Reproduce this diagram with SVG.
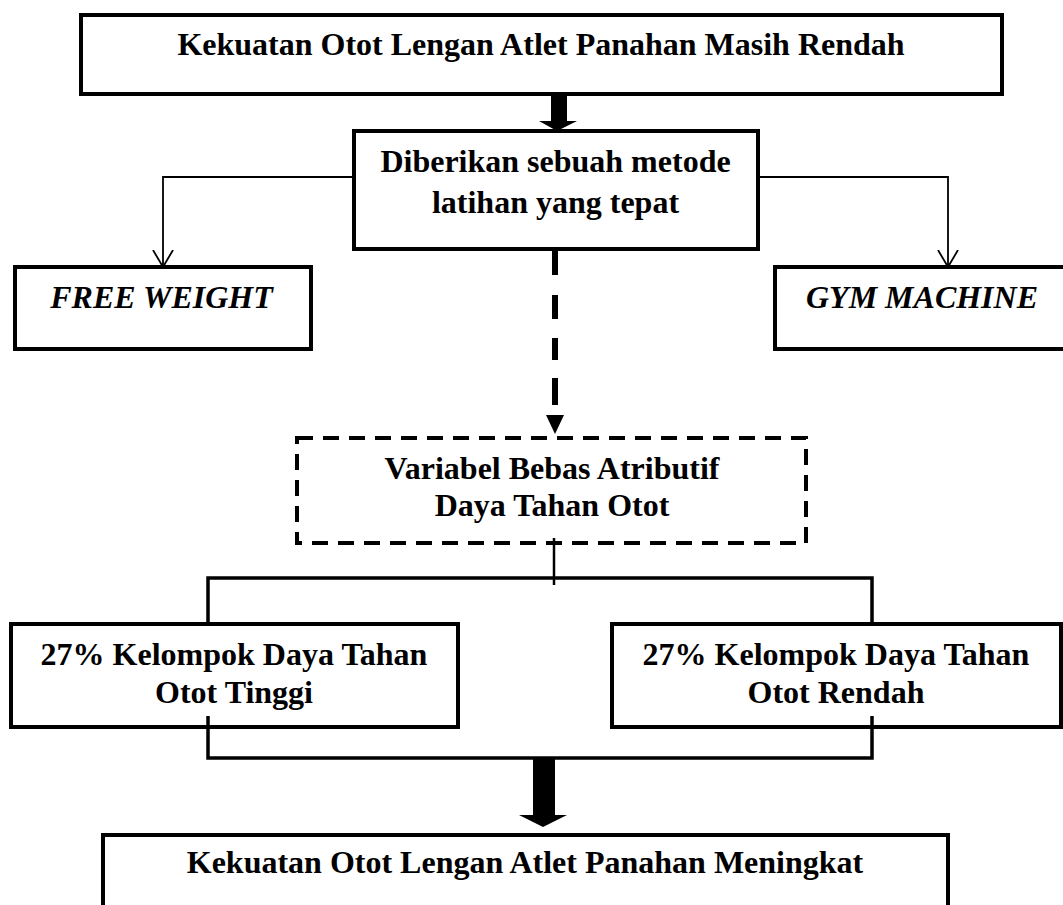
<svg xmlns="http://www.w3.org/2000/svg" width="1063" height="905" viewBox="0 0 1063 905">
<style>
.box{fill:#fff;stroke:#000;stroke-width:4}
.dbox{fill:#fff;stroke:#000;stroke-width:4;stroke-dasharray:16 10}
.t{font-family:"Liberation Serif","Times New Roman",serif;font-weight:bold;font-size:32px;fill:#000;text-anchor:middle}
.i{font-style:italic}
.thin{fill:none;stroke:#000;stroke-width:1.8}
.mid{fill:none;stroke:#000;stroke-width:3.5}
</style>
<defs>
<marker id="open" markerWidth="18" markerHeight="22" refX="17" refY="11" orient="auto" markerUnits="userSpaceOnUse" viewBox="0 0 18 22">
<path d="M0,1 L17,11 L0,21" fill="none" stroke="#000" stroke-width="1.8"/>
</marker>
</defs>
<rect width="1063" height="905" fill="#fff"/>
<g id="n1"><rect class="box" x="81" y="15" width="921" height="79"/><text class="t" x="541" y="55">Kekuatan Otot Lengan Atlet Panahan Masih Rendah</text></g>
<g id="n2"><rect class="box" x="354" y="131" width="404" height="118"/><text class="t" x="555.5" y="172">Diberikan sebuah metode</text><text class="t" x="555.5" y="213">latihan yang tepat</text></g>
<g id="n3"><rect class="box" x="15" y="267" width="296" height="82"/><text class="t i" x="161.5" y="308">FREE WEIGHT</text></g>
<g id="n4"><rect class="box" x="775" y="267" width="292" height="82"/><text class="t i" x="922" y="308">GYM MACHINE</text></g>
<g id="n5"><rect class="dbox" x="297" y="438" width="509" height="105"/><text class="t" x="552" y="479">Variabel Bebas Atributif</text><text class="t" x="552" y="516">Daya Tahan Otot</text></g>
<g id="n6"><rect class="box" x="11" y="624" width="447" height="103"/><text class="t" x="234" y="665">27% Kelompok Daya Tahan</text><text class="t" x="234" y="703">Otot Tinggi</text></g>
<g id="n7"><rect class="box" x="612" y="624" width="449" height="103"/><text class="t" x="836" y="665">27% Kelompok Daya Tahan</text><text class="t" x="836" y="703">Otot Rendah</text></g>
<g id="n8"><rect class="box" x="103" y="835" width="845" height="80"/><text class="t" x="525" y="873">Kekuatan Otot Lengan Atlet Panahan Meningkat</text></g>
<g id="connectors">
<rect x="551" y="96" width="16" height="26" fill="#000"/>
<polygon points="539,121 577,121 557,131" fill="#000"/>
<polyline class="thin" points="356,177 163,177 163,267" marker-end="url(#open)"/>
<polyline class="thin" points="756,177 948,177 948,267" marker-end="url(#open)"/>
<path d="M555,251 V275 M555,295 V319 M555,338 V360 M555,378 V405" fill="none" stroke="#000" stroke-width="6"/>
<polygon points="546,415 564,415 555,434" fill="#000"/>
<line x1="554" y1="538" x2="554" y2="585" stroke="#000" stroke-width="2.5"/>
<polyline class="mid" points="208,624 208,578 872,578 872,624"/>
<polyline class="mid" points="208,716 208,758 872,758 872,716"/>
<rect x="533" y="758" width="22" height="58" fill="#000"/>
<polygon points="519,815 567,815 543,827" fill="#000"/>
</g>
</svg>
